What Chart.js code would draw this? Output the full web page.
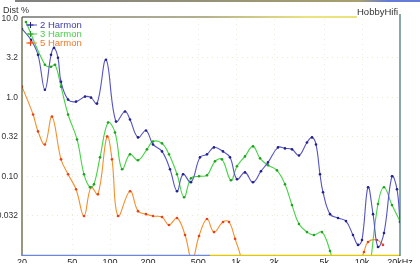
<!DOCTYPE html>
<html>
<head>
<meta charset="utf-8">
<script src="https://cdn.jsdelivr.net/npm/chart.js@4/dist/chart.umd.min.js"></script>
<style>
  html, body { margin: 0; padding: 0; background: #fff; }
  #wrap { width: 420px; height: 264px; position: relative; }
</style>
</head>
<body>
<div id="wrap"><canvas id="distChart"></canvas></div>
<script>
// Klirrfaktor-Messung: 2./3./5. Harmonische, Dist % über Frequenz (log/log)
const xTicks = [20, 50, 100, 200, 500, 1000, 2000, 5000, 10000, 20000];
const xTickLabels = ['20', '50', '100', '200', '500', '1k', '2k', '5k', '10k', '20kHz'];
const yTicks = [10, 3.2, 1, 0.32, 0.1, 0.032];
const yTickLabels = ['10.0', '3.2', '1.0', '0.32', '0.10', '0.032'];

const h2Freq = [20, 23.6, 26.8, 30.4, 34.0, 35.9, 38.6, 40.8, 46.4, 53.7, 63.3, 70.6, 78.8, 92.9,
  111.4, 131.3, 143.9, 166.6, 192.8, 219.1, 258.3, 299, 339.8, 379.3, 438.8, 517.3, 587.8, 667.9,
  787.3, 895, 1017, 1177, 1362, 1577, 1792, 2151, 2444, 2778, 3157, 3654, 4006, 4309, 4636, 4898,
  5567, 6441, 7453, 8468, 9286, 9990, 11150, 12220, 13370, 14930, 17280, 18920, 20000];
const h2Vals = [7.47, 5.42, 3.50, 1.26, 3.50, 4.29, 3.21, 1.59, 0.944, 0.89, 1.03, 1.00, 0.84, 3.03,
  0.497, 0.665, 0.527, 0.312, 0.382, 0.254, 0.207, 0.123, 0.0646, 0.106, 0.0839, 0.174, 0.19, 0.233,
  0.207, 0.174, 0.0916, 0.112, 0.0839, 0.116, 0.150, 0.233, 0.226, 0.22, 0.184, 0.269, 0.312, 0.254, 0.106, 0.0627,
  0.033, 0.0294, 0.0269, 0.0179, 0.0134, 0.0155, 0.0726, 0.033, 0.0126, 0.019, 0.100, 0.0685, 0.0262];

const h3Freq = [21.5, 30.4, 34.0, 36.6, 40.8, 46.4, 54.7, 62.1, 69.3, 74.5, 83.2, 96.4, 109.4, 124.5,
  143.9, 166.6, 196.2, 219.1, 258.3, 293.6, 339.8, 386.5, 438.8, 508, 587.8, 680.5, 773, 911, 1017,
  1177, 1362, 1550, 1792, 2112, 2444, 2778, 3157, 3654, 4150, 4808, 5567, 5985,
  8000, 11780, 13370, 14930, 17280, 20000];
const h3Vals = [9.16, 2.62, 2.47, 2.62, 1.38, 0.61, 0.294, 0.106, 0.0726, 0.0792, 0.174, 0.483, 0.361, 0.123,
  0.19, 0.16, 0.22, 0.277, 0.262, 0.19, 0.106, 0.0542, 0.0944, 0.100, 0.103, 0.155, 0.164, 0.0889, 0.134,
  0.179, 0.24, 0.169, 0.138, 0.119, 0.0792, 0.043, 0.0247, 0.0195, 0.0179, 0.0195, 0.0112, 0.007,
  null, 0.009, 0.0443, 0.0726, 0.043, 0.0269];

const h5Freq = [20, 24.5, 26.8, 30.4, 34.6, 40.8, 46.4, 53.7, 62.1, 70.6, 80.2, 94.6, 103.6, 115.6,
  143.9, 166.6, 192.8, 219.1, 258.3, 293.6, 339.8, 393.6, 446.9, 508, 587.8, 667.9, 787.3, 879, 982,
  1094, 1150, 5000, 9640, 10350, 11150, 13130, 14650];
const h5Vals = [1.38, 0.61, 0.372, 0.254, 0.574, 0.164, 0.106, 0.0685, 0.0312, 0.0726, 0.0591, 0.321, 0.164, 0.0312,
  0.0646, 0.036, 0.033, 0.0312, 0.0303, 0.024, 0.0294, 0.0179, 0.0085, 0.0174, 0.0286, 0.0195, 0.0262, 0.0262, 0.016,
  0.0093, 0.006, null, 0.008, 0.0109, 0.0146, 0.0155, 0.0134];

const seriesNames = ['2 Harmon', '3 Harmon', '5 Harmon'];
const lineColors = ['#5454c4', '#44d444', '#f4902c'];
const dotColors = ['#22228a', '#22a022', '#e8401c'];
const legendText = ['#3c3ca8', '#4ccc4c', '#f07828'];

const toPts = (fs, vs) => fs.map((f, i) => ({ x: f, y: vs[i] }));

const FONT = '"Liberation Sans", Arial, sans-serif';

// Rahmen, Titel und Legende im Stil der Messsoftware
const decor = {
  id: 'decor',
  afterDraw(chart) {
    const { ctx, chartArea: a } = chart;
    ctx.save();
    // oberste Linie
    let g = ctx.createLinearGradient(15, 0, 420, 0);
    g.addColorStop(0, '#555555'); g.addColorStop(0.85, '#8a8040'); g.addColorStop(0.92, '#3050c8'); g.addColorStop(1, '#3050c8');
    ctx.strokeStyle = g; ctx.lineWidth = 1.5;
    ctx.beginPath(); ctx.moveTo(15, 1); ctx.lineTo(420, 1); ctx.stroke();
    // obere Rahmenlinie
    g = ctx.createLinearGradient(a.left, 0, 357, 0);
    g.addColorStop(0, '#2a2a2a'); g.addColorStop(0.55, '#6a6420'); g.addColorStop(0.85, '#d8c400'); g.addColorStop(1, '#d8c400');
    ctx.strokeStyle = g; ctx.lineWidth = 1.2;
    ctx.beginPath(); ctx.moveTo(a.left, a.top - 2); ctx.lineTo(357, a.top - 2); ctx.stroke();
    // links
    ctx.strokeStyle = '#48582e'; ctx.lineWidth = 1.2;
    ctx.beginPath(); ctx.moveTo(a.left, a.top - 2); ctx.lineTo(a.left, a.bottom + 1); ctx.stroke();
    // unten
    ctx.strokeStyle = '#6a86e4';
    ctx.beginPath(); ctx.moveTo(a.left, a.bottom + 0.5); ctx.lineTo(210, a.bottom + 0.5); ctx.stroke();
    ctx.strokeStyle = '#e2c800';
    ctx.beginPath(); ctx.moveTo(210, a.bottom + 0.5); ctx.lineTo(a.right, a.bottom + 0.5); ctx.stroke();
    // rechts
    ctx.strokeStyle = '#3c6c6c';
    ctx.beginPath(); ctx.moveTo(a.right, 14); ctx.lineTo(a.right, a.bottom + 1); ctx.stroke();

    // Titel
    ctx.fillStyle = '#333';
    ctx.font = '9px ' + FONT;
    ctx.textBaseline = 'middle';
    ctx.textAlign = 'left';
    ctx.fillText('Dist %', 3, 11);
    ctx.font = '9.5px ' + FONT;
    ctx.fillText('HobbyHifi', 357, 12);

    // Legende
    const rows = [25, 34, 43];
    ctx.font = '9.5px ' + FONT;
    seriesNames.forEach((name, i) => {
      const y = rows[i];
      ctx.strokeStyle = lineColors[i]; ctx.lineWidth = 1;
      ctx.beginPath(); ctx.moveTo(26, y); ctx.lineTo(37, y); ctx.stroke();
      ctx.strokeStyle = dotColors[i];
      ctx.beginPath(); ctx.moveTo(27.5, y); ctx.lineTo(33.5, y); ctx.moveTo(30.5, y - 3); ctx.lineTo(30.5, y + 3); ctx.stroke();
      ctx.fillStyle = legendText[i];
      ctx.fillText(name, 40, y);
    });
    ctx.restore();
  },
};

new Chart(document.getElementById('distChart'), {
  type: 'line',
  data: {
    datasets: [
      { label: seriesNames[0], data: toPts(h2Freq, h2Vals) },
      { label: seriesNames[1], data: toPts(h3Freq, h3Vals) },
      { label: seriesNames[2], data: toPts(h5Freq, h5Vals) },
    ].map((d, i) => ({
      ...d,
      borderColor: lineColors[i], borderWidth: 1.1,
      pointRadius: 1.3, pointBackgroundColor: dotColors[i], pointBorderWidth: 0,
      tension: 0.4, spanGaps: false, fill: false,
    })),
  },
  plugins: [decor],
  options: {
    responsive: true, maintainAspectRatio: false, animation: false,
    layout: { padding: { left: 0, right: 20, top: 19, bottom: 0 } },
    plugins: { legend: { display: false }, tooltip: { enabled: false } },
    scales: {
      x: {
        type: 'logarithmic', min: 20, max: 20000,
        afterBuildTicks: s => { s.ticks = xTicks.map(v => ({ value: v })); },
        afterFit: s => { s.height = 8; },
        ticks: {
          autoSkip: false, maxRotation: 0, padding: 2,
          color: '#222', font: { family: FONT, size: 9 },
          callback: (v, i) => xTickLabels[i],
        },
        grid: {
          drawTicks: false,
          color: ctx => (ctx.index === 0 || ctx.index === xTicks.length - 1) ? 'rgba(0,0,0,0)' : 'rgba(200,200,160,0.35)',
        },
        border: { display: false, dash: [1, 4] },
      },
      y: {
        type: 'logarithmic', min: 0.01, max: 10,
        afterBuildTicks: s => { s.ticks = yTicks.map(v => ({ value: v })); },
        afterFit: s => { s.width = 22; },
        ticks: {
          autoSkip: false, padding: 4,
          color: '#333', font: { family: FONT, size: 8.5 },
          callback: (v, i) => yTickLabels[i],
        },
        grid: {
          drawTicks: false,
          color: ctx => ctx.index === 0 ? 'rgba(0,0,0,0)' : 'rgba(210,200,120,0.4)',
        },
        border: { display: false, dash: [1, 4] },
      },
    },
  },
});
</script>
</body>
</html>
